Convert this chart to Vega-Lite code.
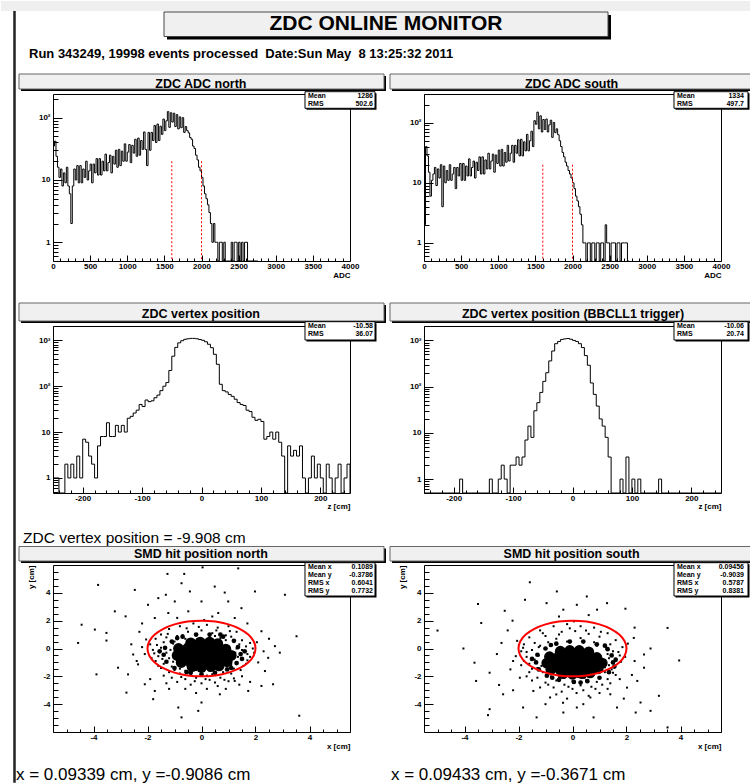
{
"$schema": "https://vega.github.io/schema/vega-lite/v6.json",
"background": "white",
"padding": {"left": 0, "top": 0, "right": 0, "bottom": 0},
"autosize": {"type": "pad"},
"config": {
  "font": "Liberation Sans",
  "view": {"stroke": "black", "strokeWidth": 1},
  "axis": {"grid": false, "domain": false, "labelFont": "Liberation Sans", "labelFontSize": 8, "labelFontWeight": "bold", "labelColor": "black", "titleFont": "Liberation Sans", "titleFontSize": 8, "titleFontWeight": "bold", "titleColor": "black", "tickColor": "black", "tickWidth": 1, "labelOverlap": false, "labelFlush": false, "labelBound": false},
  "text": {"font": "Liberation Sans", "color": "black"}
},
"datasets": {
  "adc": [
{"adc":0,"n":35,"s":2},{"adc":20,"n":42,"s":40},{"adc":40,"n":24,"s":28},{"adc":60,"n":16,"s":15},{"adc":80,"n":11,"s":6},
{"adc":100,"n":15,"s":11},{"adc":120,"n":8,"s":14},{"adc":140,"n":13,"s":18},{"adc":160,"n":9,"s":9},{"adc":180,"n":16,"s":17},
{"adc":200,"n":8,"s":12},{"adc":220,"n":6,"s":20},{"adc":240,"n":2,"s":4},{"adc":260,"n":8,"s":19},{"adc":280,"n":15,"s":10},
{"adc":300,"n":10,"s":16},{"adc":320,"n":17,"s":11},{"adc":340,"n":9,"s":20},{"adc":360,"n":17,"s":11},{"adc":380,"n":9,"s":14},
{"adc":400,"n":15,"s":18},{"adc":420,"n":11,"s":8},{"adc":440,"n":20,"s":18},{"adc":460,"n":10,"s":13},{"adc":480,"n":14,"s":21},
{"adc":500,"n":18,"s":11},{"adc":520,"n":9,"s":21},{"adc":540,"n":18,"s":11},{"adc":560,"n":13,"s":19},{"adc":580,"n":22,"s":13},
{"adc":600,"n":12,"s":25},{"adc":620,"n":22,"s":13},{"adc":640,"n":12,"s":18},{"adc":660,"n":20,"s":23},{"adc":680,"n":14,"s":12},
{"adc":700,"n":26,"s":22},{"adc":720,"n":14,"s":16},{"adc":740,"n":19,"s":27},{"adc":760,"n":25,"s":14},{"adc":780,"n":13,"s":27},
{"adc":800,"n":24,"s":14},{"adc":820,"n":18,"s":24},{"adc":840,"n":30,"s":17},{"adc":860,"n":16,"s":31},{"adc":880,"n":31,"s":17},
{"adc":900,"n":17,"s":23},{"adc":920,"n":29,"s":30},{"adc":940,"n":20,"s":15},{"adc":960,"n":38,"s":29},{"adc":980,"n":20,"s":21},
{"adc":1000,"n":28,"s":35},{"adc":1020,"n":37,"s":19},{"adc":1040,"n":19,"s":36},{"adc":1060,"n":36,"s":19},{"adc":1080,"n":27,"s":32},
{"adc":1100,"n":45,"s":22},{"adc":1120,"n":24,"s":42},{"adc":1140,"n":47,"s":23},{"adc":1160,"n":25,"s":31},{"adc":1180,"n":43,"s":42},
{"adc":1200,"n":31,"s":22},{"adc":1220,"n":59,"s":42},{"adc":1240,"n":31,"s":31},{"adc":1260,"n":17,"s":52},{"adc":1280,"n":58,"s":28},
{"adc":1300,"n":30,"s":53},{"adc":1320,"n":58,"s":28},{"adc":1340,"n":43,"s":48},{"adc":1360,"n":75,"s":34},{"adc":1380,"n":40,"s":64},
{"adc":1400,"n":79,"s":34},{"adc":1420,"n":43,"s":50},{"adc":1440,"n":73,"s":72},{"adc":1460,"n":54,"s":40},{"adc":1480,"n":95,"s":108},
{"adc":1500,"n":62,"s":94},{"adc":1520,"n":89,"s":150},{"adc":1540,"n":125,"s":79},{"adc":1560,"n":70,"s":130},{"adc":1580,"n":120,"s":70},
{"adc":1600,"n":85,"s":113},{"adc":1620,"n":118,"s":77},{"adc":1640,"n":72,"s":115},{"adc":1660,"n":112,"s":70},{"adc":1680,"n":66,"s":92},
{"adc":1700,"n":103,"s":110},{"adc":1720,"n":69,"s":57},{"adc":1740,"n":100,"s":101},{"adc":1760,"n":58,"s":68},{"adc":1780,"n":72,"s":79},
{"adc":1800,"n":62,"s":63},{"adc":1820,"n":57,"s":50},{"adc":1840,"n":48,"s":40},{"adc":1860,"n":45,"s":32},{"adc":1880,"n":35,"s":27},
{"adc":1900,"n":32,"s":22},{"adc":1920,"n":25,"s":19},{"adc":1940,"n":21,"s":16},{"adc":1960,"n":16,"s":14},{"adc":1980,"n":14,"s":12},
{"adc":2000,"n":11,"s":10},{"adc":2020,"n":8,"s":8},{"adc":2040,"n":6,"s":6},{"adc":2060,"n":5,"s":5},{"adc":2080,"n":4,"s":4},
{"adc":2100,"n":3,"s":3},{"adc":2120,"n":2,"s":2},{"adc":2140,"n":1,"s":1},{"adc":2160,"n":2,"s":1},{"adc":2180,"n":1,"s":0},
{"adc":2200,"n":1,"s":1},{"adc":2220,"n":0,"s":1},{"adc":2240,"n":1,"s":0},{"adc":2260,"n":1,"s":1},{"adc":2280,"n":0,"s":1},
{"adc":2300,"n":1,"s":0},{"adc":2320,"n":0,"s":1},{"adc":2340,"n":0,"s":1},{"adc":2360,"n":0,"s":0},{"adc":2380,"n":0,"s":1},
{"adc":2400,"n":1,"s":1},{"adc":2420,"n":0,"s":0},{"adc":2440,"n":1,"s":2},{"adc":2460,"n":1,"s":1},{"adc":2480,"n":0,"s":1},
{"adc":2500,"n":1,"s":0},{"adc":2520,"n":0,"s":1},{"adc":2540,"n":1,"s":1},{"adc":2560,"n":0,"s":1},{"adc":2580,"n":1,"s":0},
{"adc":2600,"n":1,"s":1},{"adc":2620,"n":0,"s":1},{"adc":2640,"n":0,"s":0},{"adc":2660,"n":0,"s":1},{"adc":2680,"n":0,"s":1},
{"adc":2700,"n":0,"s":1},{"adc":2720,"n":0,"s":1},{"adc":2740,"n":0,"s":0},{"adc":2760,"n":0,"s":0}
  ],
  "cuts": [{"cut":1600,"h":20},{"cut":2000,"h":20}],
  "vtx": [
{"z":-250,"n":1,"s":0},{"z":-245,"n":1,"s":0},{"z":-240,"n":0,"s":0},{"z":-235,"n":0,"s":0},{"z":-230,"n":2,"s":0},
{"z":-225,"n":1,"s":0},{"z":-220,"n":2,"s":0},{"z":-215,"n":1,"s":0},{"z":-210,"n":3,"s":0},{"z":-205,"n":1,"s":0},
{"z":-200,"n":7,"s":0},{"z":-195,"n":6,"s":0},{"z":-190,"n":3,"s":1},{"z":-185,"n":2,"s":0},{"z":-180,"n":1,"s":0},
{"z":-175,"n":5,"s":0},{"z":-170,"n":8,"s":0},{"z":-165,"n":8,"s":0},{"z":-160,"n":16,"s":0},{"z":-155,"n":8,"s":0},
{"z":-150,"n":8,"s":0},{"z":-145,"n":14,"s":0},{"z":-140,"n":10,"s":1},{"z":-135,"n":14,"s":0},{"z":-130,"n":10,"s":0},
{"z":-125,"n":20,"s":1},{"z":-120,"n":22,"s":2},{"z":-115,"n":26,"s":1},{"z":-110,"n":30,"s":0},{"z":-105,"n":40,"s":2},
{"z":-100,"n":36,"s":2},{"z":-95,"n":50,"s":3},{"z":-90,"n":46,"s":2},{"z":-85,"n":48,"s":3},{"z":-80,"n":56,"s":7},
{"z":-75,"n":64,"s":14},{"z":-70,"n":80,"s":8},{"z":-65,"n":100,"s":30},{"z":-60,"n":120,"s":45},{"z":-55,"n":220,"s":75},
{"z":-50,"n":450,"s":130},{"z":-45,"n":700,"s":200},{"z":-40,"n":880,"s":360},{"z":-35,"n":980,"s":590},{"z":-30,"n":1050,"s":850},
{"z":-25,"n":1080,"s":950},{"z":-20,"n":1100,"s":1050},{"z":-15,"n":1100,"s":1080},{"z":-10,"n":1080,"s":1100},{"z":-5,"n":1040,"s":1060},
{"z":0,"n":1000,"s":1000},{"z":5,"n":930,"s":950},{"z":10,"n":820,"s":850},{"z":15,"n":690,"s":700},{"z":20,"n":495,"s":470},
{"z":25,"n":300,"s":290},{"z":30,"n":110,"s":120},{"z":35,"n":80,"s":68},{"z":40,"n":75,"s":38},{"z":45,"n":66,"s":20},
{"z":50,"n":60,"s":14},{"z":55,"n":52,"s":8},{"z":60,"n":44,"s":3},{"z":65,"n":40,"s":0},{"z":70,"n":38,"s":0},
{"z":75,"n":30,"s":0},{"z":80,"n":28,"s":1},{"z":85,"n":21,"s":0},{"z":90,"n":18,"s":3},{"z":95,"n":19,"s":0},
{"z":100,"n":17,"s":1},{"z":105,"n":7,"s":0},{"z":110,"n":8,"s":1},{"z":115,"n":10,"s":0},{"z":120,"n":7,"s":0},
{"z":125,"n":10,"s":0},{"z":130,"n":6,"s":0},{"z":135,"n":3,"s":0},{"z":140,"n":0,"s":0},{"z":145,"n":5,"s":1},
{"z":150,"n":3,"s":0},{"z":155,"n":4,"s":0},{"z":160,"n":3,"s":0},{"z":165,"n":5,"s":0},{"z":170,"n":1,"s":0},
{"z":175,"n":0,"s":0},{"z":180,"n":1,"s":0},{"z":185,"n":3,"s":0},{"z":190,"n":1,"s":0},{"z":195,"n":2,"s":0},
{"z":200,"n":1,"s":0},{"z":205,"n":0,"s":0},{"z":210,"n":2,"s":0},{"z":215,"n":1,"s":0},{"z":220,"n":0,"s":0},
{"z":225,"n":1,"s":0},{"z":230,"n":2,"s":0},{"z":235,"n":0,"s":0},{"z":240,"n":1,"s":0},{"z":245,"n":2,"s":0},
{"z":250,"n":0,"s":0}
  ],
  "ring": [
{"k":0,"x":2,"y":0},{"k":1,"x":1.932,"y":0.518},{"k":2,"x":1.732,"y":1},{"k":3,"x":1.414,"y":1.414},{"k":4,"x":1,"y":1.732},{"k":5,"x":0.518,"y":1.932},
{"k":6,"x":0,"y":2},{"k":7,"x":-0.518,"y":1.932},{"k":8,"x":-1,"y":1.732},{"k":9,"x":-1.414,"y":1.414},{"k":10,"x":-1.732,"y":1},{"k":11,"x":-1.932,"y":0.518},
{"k":12,"x":-2,"y":0},{"k":13,"x":-1.932,"y":-0.518},{"k":14,"x":-1.732,"y":-1},{"k":15,"x":-1.414,"y":-1.414},{"k":16,"x":-1,"y":-1.732},{"k":17,"x":-0.518,"y":-1.932},
{"k":18,"x":0,"y":-2},{"k":19,"x":0.518,"y":-1.932},{"k":20,"x":1,"y":-1.732},{"k":21,"x":1.414,"y":-1.414},{"k":22,"x":1.732,"y":-1},{"k":23,"x":1.932,"y":-0.518}
  ],
  "nCore": [
{"x":-0.4,"y":0.4},{"x":-0.05,"y":0.45},{"x":0.3,"y":0.45},{"x":0.6,"y":0.35},{"x":-0.85,"y":0},{"x":-0.5,"y":0.05},{"x":-0.15,"y":0},{"x":0.2,"y":0.05},{"x":0.55,"y":0},{"x":0.9,"y":-0.05},
{"x":-0.9,"y":-0.5},{"x":-0.55,"y":-0.5},{"x":-0.2,"y":-0.5},{"x":0.15,"y":-0.5},{"x":0.5,"y":-0.5},{"x":0.85,"y":-0.5},{"x":1.1,"y":-0.5},
{"x":-0.75,"y":-1},{"x":-0.4,"y":-1},{"x":-0.05,"y":-1},{"x":0.3,"y":-1},{"x":0.65,"y":-1},{"x":0.95,"y":-0.95},
{"x":-0.35,"y":-1.3},{"x":0,"y":-1.35},{"x":0.35,"y":-1.3},{"x":0.65,"y":-1.25},
{"x":-0.7,"y":-0.25},{"x":-0.35,"y":-0.25},{"x":0,"y":-0.25},{"x":0.35,"y":-0.25},{"x":0.7,"y":-0.25},{"x":-0.55,"y":-0.75},{"x":-0.2,"y":-0.75},{"x":0.15,"y":-0.75},{"x":0.5,"y":-0.75},{"x":0.85,"y":-0.75}
  ],
  "sCore": [
{"x":-0.45,"y":-0.2},{"x":-0.1,"y":-0.15},{"x":0.25,"y":-0.15},{"x":0.6,"y":-0.25},{"x":-0.85,"y":-0.6},{"x":-0.5,"y":-0.55},{"x":-0.15,"y":-0.55},{"x":0.2,"y":-0.55},{"x":0.55,"y":-0.55},{"x":0.9,"y":-0.65},
{"x":-0.95,"y":-1.05},{"x":-0.6,"y":-1.05},{"x":-0.25,"y":-1.05},{"x":0.1,"y":-1.05},{"x":0.45,"y":-1.05},{"x":0.8,"y":-1.05},{"x":1.1,"y":-1.05},
{"x":-0.8,"y":-1.5},{"x":-0.45,"y":-1.55},{"x":-0.1,"y":-1.55},{"x":0.25,"y":-1.55},{"x":0.6,"y":-1.5},{"x":0.95,"y":-1.45},
{"x":-0.35,"y":-1.8},{"x":0,"y":-1.85},{"x":0.35,"y":-1.8},{"x":0.65,"y":-1.75},
{"x":-0.7,"y":-0.8},{"x":-0.35,"y":-0.8},{"x":0,"y":-0.8},{"x":0.35,"y":-0.8},{"x":0.7,"y":-0.8},{"x":-0.6,"y":-1.3},{"x":-0.25,"y":-1.3},{"x":0.1,"y":-1.3},{"x":0.45,"y":-1.3},{"x":0.8,"y":-1.3}
  ],
  "nMid": [
{"x":1.45,"y":-0.4},{"x":1.35,"y":0.1},{"x":1.2,"y":0.55},{"x":0.8,"y":0.85},{"x":0.3,"y":1},{"x":-0.2,"y":1},{"x":-0.7,"y":0.85},{"x":-1.1,"y":0.5},
{"x":-1.35,"y":0.05},{"x":-1.4,"y":-0.45},{"x":-1.3,"y":-0.95},{"x":-1,"y":-1.4},{"x":-0.55,"y":-1.7},{"x":0,"y":-1.85},{"x":0.5,"y":-1.75},{"x":0.95,"y":-1.5},
{"x":1.3,"y":-1.05},{"x":1.5,"y":-0.75},{"x":1.6,"y":-0.2},{"x":-1.55,"y":-0.2},{"x":-0.4,"y":-1.75},{"x":0.7,"y":1},{"x":-0.9,"y":0.75},{"x":1.1,"y":-1.4}
  ],
  "sMid": [
{"x":1.5,"y":-1},{"x":1.45,"y":-0.5},{"x":1.3,"y":-0.05},{"x":0.9,"y":0.3},{"x":0.4,"y":0.5},{"x":-0.1,"y":0.5},{"x":-0.6,"y":0.35},{"x":-1,"y":0},
{"x":-1.3,"y":-0.45},{"x":-1.35,"y":-1},{"x":-1.25,"y":-1.5},{"x":-0.95,"y":-1.95},{"x":-0.5,"y":-2.25},{"x":0.05,"y":-2.4},{"x":0.55,"y":-2.35},{"x":1,"y":-2.1},
{"x":1.35,"y":-1.7},{"x":1.55,"y":-1.3},{"x":-1.5,"y":-0.75},{"x":0.3,"y":-2.45},{"x":-0.75,"y":-2.1},{"x":1.2,"y":0.2},{"x":-0.8,"y":0.25},{"x":1.6,"y":-0.8}
  ],
  "nPts": [
{"x":-1.26,"y":5.36},{"x":-0.64,"y":5.36},{"x":0.04,"y":5.83},{"x":1.36,"y":5.76},{"x":-3.83,"y":4.57},{"x":-2.47,"y":4.21},{"x":-1.32,"y":3.86},{"x":-0.74,"y":4.69},{"x":-0.43,"y":4.1},{"x":0.49,"y":4.45},
{"x":0.86,"y":4.02},{"x":1.98,"y":4.1},{"x":3.09,"y":3.86},{"x":-4.44,"y":1.71},{"x":-3.95,"y":1.36},{"x":-3.21,"y":2.67},{"x":-2.81,"y":2.31},{"x":-4.57,"y":0.4},{"x":-3.52,"y":1.12},{"x":-3.52,"y":0.57},
{"x":3.52,"y":0.88},{"x":2.72,"y":0.17},{"x":2.22,"y":1.24},{"x":2.47,"y":-0.67},{"x":2.35,"y":-1.62},{"x":2.65,"y":-2.57},{"x":2.22,"y":-2.69},{"x":1.73,"y":-3.05},{"x":-2.78,"y":-3.17},{"x":-2.1,"y":-2.57},
{"x":-1.73,"y":-3.05},{"x":-1.79,"y":-3.64},{"x":-0.86,"y":-4.24},{"x":0,"y":-3.88},{"x":-0.12,"y":-4.48},{"x":-0.74,"y":-4.95},{"x":3.62,"y":-4.83},{"x":0.68,"y":-3.29},{"x":1.23,"y":-2.33},{"x":-2.53,"y":-0.43},
{"x":-3.09,"y":-1.38},{"x":-2.35,"y":-1.14},{"x":-3.89,"y":-1.86},{"x":-2.72,"y":-1.86},{"x":-1.6,"y":3.62},{"x":-0.99,"y":3.38},{"x":0,"y":3.38},{"x":0.99,"y":3.38},{"x":-1.98,"y":3.14},{"x":1.48,"y":2.9},
{"x":-1.23,"y":2.55},{"x":-0.49,"y":2.67},{"x":0.62,"y":2.55},{"x":1.23,"y":2.19},{"x":-1.73,"y":2.19},
{"x":-2.3,"y":1.2},{"x":-2.6,"y":0.3},{"x":2.5,"y":0.7},{"x":2.1,"y":-1},{"x":1.8,"y":-2.4},{"x":-1.9,"y":-2.2},{"x":-2.4,"y":-0.9},{"x":2.9,"y":-0.3},{"x":-0.2,"y":-3.2},{"x":0.9,"y":-2.9},
{"x":-1.2,"y":-2.9},{"x":0.4,"y":2.3},{"x":-0.9,"y":2.2},{"x":1.7,"y":1.8},{"x":-2.2,"y":1.8},
{"x":-0.8,"y":1.6},{"x":-0.3,"y":1.8},{"x":0.2,"y":1.7},{"x":0.6,"y":1.5},{"x":1,"y":1.6},{"x":-1.2,"y":1.4},{"x":0,"y":1.3},{"x":-0.5,"y":1.2},{"x":0.4,"y":1.1},{"x":1.3,"y":1.2},
{"x":-1.5,"y":1},{"x":0.9,"y":0.95},{"x":-1.7,"y":0.7},{"x":-1.3,"y":0.8},{"x":-0.9,"y":0.9},{"x":-0.6,"y":0.7},{"x":-0.2,"y":0.95},{"x":0.3,"y":0.85},{"x":0.7,"y":0.75},{"x":1.1,"y":0.85},
{"x":1.5,"y":0.6},{"x":1.8,"y":0.4},{"x":-1.9,"y":0.3},{"x":-1.4,"y":0.45},{"x":-1,"y":0.5},{"x":1.4,"y":0.3},{"x":1.2,"y":0.55},{"x":-0.4,"y":0.5},{"x":0.6,"y":0.55},{"x":-1.8,"y":-0.1},
{"x":-1.5,"y":0.05},{"x":-1.3,"y":-0.3},{"x":1.5,"y":-0.1},{"x":1.7,"y":-0.4},{"x":1.35,"y":-0.6},{"x":-1.6,"y":-0.55},{"x":-1.2,"y":-0.7},{"x":1.9,"y":0},{"x":-1.7,"y":-0.9},{"x":-1.4,"y":-1.1},
{"x":-1.1,"y":-1.3},{"x":1.3,"y":-1},{"x":1.55,"y":-1.25},{"x":1.2,"y":-1.45},{"x":-1.5,"y":-1.4},{"x":1.7,"y":-0.85},{"x":-1.2,"y":-1.7},{"x":-0.8,"y":-1.8},{"x":-0.4,"y":-1.9},{"x":0,"y":-1.75},
{"x":0.4,"y":-1.85},{"x":0.8,"y":-1.7},{"x":1.1,"y":-1.8},{"x":-0.6,"y":-1.6},{"x":0.6,"y":-1.55},{"x":-1,"y":-1.55},{"x":0.2,"y":-1.95},{"x":0.95,"y":-1.5},{"x":-1.1,"y":-2.1},{"x":-0.6,"y":-2.2},
{"x":-0.2,"y":-2.1},{"x":0.3,"y":-2.25},{"x":0.7,"y":-2.1},{"x":1.2,"y":-2.15},{"x":-0.9,"y":-2.4},{"x":0,"y":-2.5},{"x":0.5,"y":-2.45},{"x":1,"y":-2.35},{"x":-0.4,"y":-2.6},{"x":1.5,"y":-2},
{"x":-1.4,"y":-1.95},{"x":-1.15,"y":-0.1},{"x":-1.05,"y":0.35},{"x":1.3,"y":0},{"x":1.25,"y":-0.3},{"x":-1.05,"y":-0.95},{"x":1.1,"y":-1.2},{"x":-0.7,"y":0.95},{"x":0.5,"y":0.9},{"x":0.9,"y":0.6},
{"x":-0.8,"y":-1.45},{"x":0.3,"y":-1.6},{"x":-0.2,"y":-1.55},
{"x":-1.65,"y":0.25},{"x":-1.75,"y":-0.35},{"x":-1.45,"y":-0.75},{"x":1.65,"y":0.15},{"x":1.8,"y":-0.6},{"x":1.45,"y":-1.55},{"x":-1.25,"y":1.05},{"x":1.05,"y":1.25},{"x":-0.1,"y":1.55},{"x":0.55,"y":1.3},
{"x":-0.55,"y":1.45},{"x":-1.85,"y":-0.7},{"x":1.95,"y":-0.3},{"x":-0.25,"y":-2.35},{"x":0.85,"y":-2.25},{"x":-0.75,"y":-2.05},{"x":0.15,"y":-2.2},{"x":-1.6,"y":-1.25},{"x":1.65,"y":-1.1},{"x":-2.1,"y":-0.4},
{"x":2.05,"y":0.45},{"x":-2.05,"y":0.65},{"x":-0.6,"y":-2.9},{"x":0.6,"y":-2.7},{"x":1.4,"y":-2.6},{"x":-1.3,"y":-2.5},{"x":0.2,"y":-2.9},{"x":2.3,"y":-0.2},{"x":-2.2,"y":0.1},{"x":0.1,"y":2.05}
  ],
  "sPts": [
{"x":-1.58,"y":4.76},{"x":-0.58,"y":4.1},{"x":-1.76,"y":3.5},{"x":-3.5,"y":3.19},{"x":-5,"y":1.29},{"x":-3.38,"y":1.83},{"x":-2.51,"y":2.71},{"x":-2.22,"y":2},{"x":-4.04,"y":0},{"x":-3.63,"y":-1.02},
{"x":-3.57,"y":-2.33},{"x":-3.07,"y":-1.74},{"x":-2.63,"y":0.4},{"x":-2.72,"y":-2.62},{"x":-2.57,"y":-3.29},{"x":-3.07,"y":-4.36},{"x":-3.13,"y":-4.79},{"x":-1.83,"y":-4.24},{"x":-1.33,"y":-4.95},{"x":-0.34,"y":-4.6},
{"x":0.16,"y":-4.24},{"x":0.78,"y":-4.95},{"x":1.65,"y":-4.24},{"x":2.52,"y":-3.88},{"x":2.34,"y":-4.6},{"x":2.89,"y":-4.48},{"x":3.52,"y":-5.67},{"x":3.2,"y":-3.4},{"x":3.95,"y":-0.86},{"x":3.52,"y":1.48},
{"x":2.89,"y":0},{"x":1.96,"y":2.86},{"x":1.28,"y":3.26},{"x":0.91,"y":2.79},{"x":0.16,"y":3.14},{"x":-0.34,"y":2.79},{"x":-0.96,"y":3.26},{"x":0.53,"y":3.74},{"x":2.65,"y":-1.38},{"x":2.4,"y":-2.33},
{"x":2.02,"y":-2.81},{"x":1.4,"y":-3.29},{"x":0.66,"y":-3.52},{"x":-0.83,"y":-3.52},{"x":-1.45,"y":-3.05},{"x":-1.95,"y":-2.1},{"x":-2.2,"y":-0.9},{"x":-1.83,"y":0.05},{"x":2.65,"y":-0.43},{"x":2.27,"y":0.76},
{"x":-2.4,"y":1.3},{"x":2.3,"y":1.5},{"x":-2.8,"y":-0.4},{"x":2.2,"y":-1.9},{"x":-2.2,"y":-3},{"x":1,"y":-3.2},{"x":-0.2,"y":-3.6},{"x":0.4,"y":-4},{"x":-1,"y":-4},{"x":1.9,"y":-3.6},
{"x":-0.5,"y":2.3},{"x":0.6,"y":2.4},
{"x":-0.7,"y":1.6},{"x":-0.2,"y":1.75},{"x":0.3,"y":1.6},{"x":0.8,"y":1.5},{"x":-1.2,"y":1.3},{"x":1.3,"y":1.1},{"x":-0.4,"y":1.2},{"x":0.1,"y":1.25},{"x":0.6,"y":1.05},{"x":-1.6,"y":0.8},
{"x":-1,"y":0.9},{"x":1,"y":0.85},{"x":1.6,"y":0.6},{"x":-0.6,"y":0.7},{"x":0.3,"y":0.75},{"x":-1.8,"y":0.3},{"x":-1.4,"y":0.4},{"x":1.4,"y":0.3},{"x":1.85,"y":0.1},{"x":-0.2,"y":0.5},
{"x":0.8,"y":0.45},{"x":-1.9,"y":-0.2},{"x":-1.5,"y":-0.1},{"x":-1.25,"y":0.1},{"x":1.5,"y":-0.2},{"x":1.75,"y":-0.5},{"x":1.3,"y":-0.4},{"x":-1.7,"y":-0.6},{"x":-1.4,"y":-0.8},{"x":1.6,"y":-0.9},
{"x":1.35,"y":-1.2},{"x":-1.6,"y":-1.1},{"x":-1.3,"y":-1.4},{"x":1.45,"y":-1.5},{"x":1.2,"y":-1.7},{"x":-1.1,"y":-1.7},{"x":-0.8,"y":-2},{"x":-0.3,"y":-2.1},{"x":0.2,"y":-2.05},{"x":0.7,"y":-2},
{"x":1,"y":-2.1},{"x":-1.3,"y":-2.1},{"x":-0.6,"y":-2.3},{"x":0,"y":-2.35},{"x":0.5,"y":-2.3},{"x":0.9,"y":-2.4},{"x":1.3,"y":-2.2},{"x":-1,"y":-2.45},{"x":-0.3,"y":-2.6},{"x":0.3,"y":-2.65},
{"x":0.7,"y":-2.75},{"x":-0.7,"y":-2.8},{"x":0,"y":-2.9},{"x":1.1,"y":-2.6},{"x":-1.5,"y":-2.3},{"x":1.6,"y":-1.9},{"x":-1.6,"y":-1.7},{"x":0.4,"y":-3},{"x":-0.4,"y":-3.1},{"x":1.4,"y":-2.5},
{"x":-1.25,"y":-0.5},{"x":-1.2,"y":0.2},{"x":1.35,"y":-0.7},{"x":1.25,"y":0.05},{"x":-0.9,"y":0.45},{"x":0.9,"y":0.2},{"x":-1.15,"y":-1.25},{"x":1.2,"y":-1.35},{"x":-0.5,"y":-2.05},{"x":0.45,"y":-2.1},
{"x":-1.7,"y":-0.25},{"x":-1.8,"y":-0.9},{"x":-1.5,"y":-1.45},{"x":1.7,"y":-0.25},{"x":1.8,"y":-0.95},{"x":1.5,"y":-1.75},{"x":-1.1,"y":1.1},{"x":1.05,"y":1.2},{"x":-0.1,"y":1.45},{"x":0.5,"y":1.3},
{"x":-0.5,"y":1},{"x":-1.9,"y":-1.2},{"x":1.95,"y":-0.6},{"x":-0.15,"y":-2.75},{"x":0.85,"y":-2.9},{"x":-0.9,"y":-2.6},{"x":0.15,"y":-3.2},{"x":-1.7,"y":-2},{"x":1.75,"y":-2.2},{"x":-2.1,"y":-0.55},
{"x":2.05,"y":0.35},{"x":-2.05,"y":0.55},{"x":-0.6,"y":-3.3},{"x":0.6,"y":-3.4},{"x":1.3,"y":-2.9},{"x":-1.2,"y":-2.8},{"x":-0.35,"y":-3.9},{"x":2.3,"y":-0.9},{"x":-2.3,"y":-1.5},{"x":0.05,"y":1.95}
  ]
},
"columns": 2,
"spacing": {"row": 0, "column": 74},
"bounds": "flush",
"align": "each",
"concat": [
  {
    "width": 297, "height": 167,
    "resolve": {"scale": {"x": "independent", "y": "independent"}, "axis": {"x": "independent", "y": "independent"}},
    "layer": [
      {"data": {"values": [{}]}, "layer": [
        {"mark": {"type": "rect", "fill": "#efefef"}, "encoding": {"x": {"datum": -0.17508, "type": "quantitative", "scale": {"domain": [0, 1]}, "axis": null}, "x2": {"datum": 2.35016}, "y": {"datum": 1.55689, "type": "quantitative", "scale": {"domain": [0, 1]}, "axis": null}, "y2": {"datum": 1.49701}}},
        {"mark": {"type": "rule", "color": "#222222", "strokeWidth": 2.5}, "encoding": {"x": {"datum": -0.12963, "type": "quantitative", "scale": {"domain": [0, 1]}, "axis": null}, "y": {"datum": 1.49701, "type": "quantitative", "scale": {"domain": [0, 1]}, "axis": null}, "y2": {"datum": -3.12395}}},
        {"mark": {"type": "rect", "fill": "black", "xOffset": 3, "x2Offset": 3, "yOffset": 3, "y2Offset": 3}, "encoding": {"x": {"datum": 0.37374, "type": "quantitative", "scale": {"domain": [0, 1]}, "axis": null}, "x2": {"datum": 1.86869}, "y": {"datum": 1.49102, "type": "quantitative", "scale": {"domain": [0, 1]}, "axis": null}, "y2": {"datum": 1.34431}}},
        {"mark": {"type": "rect", "fill": "#f0f0f0", "stroke": "#444444", "strokeWidth": 1}, "encoding": {"x": {"datum": 0.37374, "type": "quantitative", "scale": {"domain": [0, 1]}, "axis": null}, "x2": {"datum": 1.86869}, "y": {"datum": 1.49102, "type": "quantitative", "scale": {"domain": [0, 1]}, "axis": null}, "y2": {"datum": 1.34431}}},
        {"mark": {"type": "text", "fontSize": 21, "fontWeight": "bold", "align": "center", "baseline": "middle"}, "encoding": {"x": {"datum": 1.12121, "type": "quantitative", "scale": {"domain": [0, 1]}, "axis": null}, "y": {"datum": 1.41617, "type": "quantitative", "scale": {"domain": [0, 1]}, "axis": null}, "text": {"value": "ZDC ONLINE MONITOR"}}},
        {"mark": {"type": "text", "fontSize": 13, "fontWeight": "bold", "align": "left", "baseline": "alphabetic"}, "encoding": {"x": {"datum": -0.08081, "type": "quantitative", "scale": {"domain": [0, 1]}, "axis": null}, "y": {"datum": 1.21557, "type": "quantitative", "scale": {"domain": [0, 1]}, "axis": null}, "text": {"value": "Run 343249, 19998 events processed\u00a0 Date:Sun May\u00a0 8 13:25:32 2011"}}}
      ]},
      {"resolve": {"axis": {"x": "independent", "y": "independent"}}, "layer": [
        {"data": {"name": "adc"}, "mark": {"type": "line", "interpolate": "step-after", "color": "black", "strokeWidth": 1},
         "encoding": {
           "x": {"field": "adc", "type": "quantitative", "scale": {"domain": [0, 4000], "nice": false, "zero": false},
                 "axis": {"orient": "bottom", "values": [0,500,1000,1500,2000,2500,3000,3500,4000], "format": "d", "labelOverlap": false, "tickSize": -6, "labelPadding": 7.5, "title": "ADC", "titleAlign": "right", "titleBaseline": "top", "titleX": 297, "titleY": 10}},
           "y": {"field": "n", "type": "quantitative", "scale": {"type": "log", "domain": [0.5, 240], "nice": false, "clamp": true},
                 "axis": {"orient": "left", "values": [1,10,100], "labelOverlap": false, "labelExpr": "datum.value == 100 ? '10²' : datum.value == 1000 ? '10³' : toString(datum.value)", "tickSize": -9, "labelPadding": 12, "title": null}}
         }},
        {"data": {"name": "cuts"}, "mark": {"type": "rule", "color": "red", "strokeDash": [2, 2], "strokeWidth": 1},
         "encoding": {
           "x": {"field": "cut", "type": "quantitative", "scale": {"domain": [0, 4000], "nice": false, "zero": false},
                 "axis": {"orient": "bottom", "values": [100,200,300,400,600,700,800,900,1100,1200,1300,1400,1600,1700,1800,1900,2100,2200,2300,2400,2600,2700,2800,2900,3100,3200,3300,3400,3600,3700,3800,3900], "labels": false, "tickSize": -3, "title": null}},
           "y": {"field": "h", "type": "quantitative", "scale": {"type": "log", "domain": [0.5, 240], "nice": false, "clamp": true},
                 "axis": {"orient": "left", "values": [0.6,0.7,0.8,0.9,2,3,4,5,6,7,8,9,20,30,40,50,60,70,80,90,200], "labels": false, "tickSize": -5, "title": null}},
           "y2": {"datum": 0.5}}}
      ]},
      {"data": {"values": [{}]}, "layer": [
        {"mark": {"type": "rect", "fill": "black", "xOffset": 2, "x2Offset": 2, "yOffset": 2, "y2Offset": 2}, "encoding": {"x": {"datum": -0.11448, "type": "quantitative", "scale": {"domain": [0, 1]}, "axis": null}, "x2": {"datum": 1.11448}, "y": {"datum": 1.11976, "type": "quantitative", "scale": {"domain": [0, 1]}, "axis": null}, "y2": {"datum": 1.02994}}},
        {"mark": {"type": "rect", "fill": "#f0f0f0", "stroke": "#666666", "strokeWidth": 1}, "encoding": {"x": {"datum": -0.11448, "type": "quantitative", "scale": {"domain": [0, 1]}, "axis": null}, "x2": {"datum": 1.11448}, "y": {"datum": 1.11976, "type": "quantitative", "scale": {"domain": [0, 1]}, "axis": null}, "y2": {"datum": 1.02994}}},
        {"mark": {"type": "text", "fontSize": 12.5, "fontWeight": "bold", "align": "center", "baseline": "middle"}, "encoding": {"x": {"datum": 0.498, "type": "quantitative", "scale": {"domain": [0, 1]}, "axis": null}, "y": {"datum": 1.06287, "type": "quantitative", "scale": {"domain": [0, 1]}, "axis": null}, "text": {"value": "ZDC ADC north"}}},
        {"mark": {"type": "rect", "fill": "black", "xOffset": 1.5, "x2Offset": 1.5, "yOffset": 1.5, "y2Offset": 1.5}, "encoding": {"x": {"datum": 0.84848, "type": "quantitative", "scale": {"domain": [0, 1]}, "axis": null}, "x2": {"datum": 1.08418}, "y": {"datum": 1.01377, "type": "quantitative", "scale": {"domain": [0, 1]}, "axis": null}, "y2": {"datum": 0.91437}}},
        {"mark": {"type": "rect", "fill": "white", "stroke": "black", "strokeWidth": 1}, "encoding": {"x": {"datum": 0.84848, "type": "quantitative", "scale": {"domain": [0, 1]}, "axis": null}, "x2": {"datum": 1.08418}, "y": {"datum": 1.01377, "type": "quantitative", "scale": {"domain": [0, 1]}, "axis": null}, "y2": {"datum": 0.91437}}},
        {"mark": {"type": "text", "fontSize": 7, "fontWeight": "bold", "align": "left", "baseline": "top", "lineHeight": 8}, "encoding": {"x": {"datum": 0.85859, "type": "quantitative", "scale": {"domain": [0, 1]}, "axis": null}, "y": {"datum": 1.01198, "type": "quantitative", "scale": {"domain": [0, 1]}, "axis": null}, "text": {"value": ["Mean", "RMS"]}}},
        {"mark": {"type": "text", "fontSize": 7, "fontWeight": "bold", "align": "right", "baseline": "top", "lineHeight": 8}, "encoding": {"x": {"datum": 1.07744, "type": "quantitative", "scale": {"domain": [0, 1]}, "axis": null}, "y": {"datum": 1.01198, "type": "quantitative", "scale": {"domain": [0, 1]}, "axis": null}, "text": {"value": ["1286", "502.6"]}}}
      ]}
    ]
  },
  {
    "width": 297, "height": 167,
    "resolve": {"scale": {"x": "independent", "y": "independent"}, "axis": {"x": "independent", "y": "independent"}},
    "layer": [
      {"resolve": {"axis": {"x": "independent", "y": "independent"}}, "layer": [
        {"data": {"name": "adc"}, "mark": {"type": "line", "interpolate": "step-after", "color": "black", "strokeWidth": 1},
         "encoding": {
           "x": {"field": "adc", "type": "quantitative", "scale": {"domain": [0, 4000], "nice": false, "zero": false},
                 "axis": {"orient": "bottom", "values": [0,500,1000,1500,2000,2500,3000,3500,4000], "format": "d", "labelOverlap": false, "tickSize": -6, "labelPadding": 7.5, "title": "ADC", "titleAlign": "right", "titleBaseline": "top", "titleX": 297, "titleY": 10}},
           "y": {"field": "s", "type": "quantitative", "scale": {"type": "log", "domain": [0.5, 300], "nice": false, "clamp": true},
                 "axis": {"orient": "left", "values": [1,10,100], "labelOverlap": false, "labelExpr": "datum.value == 100 ? '10²' : datum.value == 1000 ? '10³' : toString(datum.value)", "tickSize": -9, "labelPadding": 12, "title": null}}
         }},
        {"data": {"name": "cuts"}, "mark": {"type": "rule", "color": "red", "strokeDash": [2, 2], "strokeWidth": 1},
         "encoding": {
           "x": {"field": "cut", "type": "quantitative", "scale": {"domain": [0, 4000], "nice": false, "zero": false},
                 "axis": {"orient": "bottom", "values": [100,200,300,400,600,700,800,900,1100,1200,1300,1400,1600,1700,1800,1900,2100,2200,2300,2400,2600,2700,2800,2900,3100,3200,3300,3400,3600,3700,3800,3900], "labels": false, "tickSize": -3, "title": null}},
           "y": {"field": "h", "type": "quantitative", "scale": {"type": "log", "domain": [0.5, 300], "nice": false, "clamp": true},
                 "axis": {"orient": "left", "values": [0.6,0.7,0.8,0.9,2,3,4,5,6,7,8,9,20,30,40,50,60,70,80,90,200,300], "labels": false, "tickSize": -5, "title": null}},
           "y2": {"datum": 0.5}}}
      ]},
      {"data": {"values": [{}]}, "layer": [
        {"mark": {"type": "rect", "fill": "black", "xOffset": 2, "x2Offset": 0, "yOffset": 2, "y2Offset": 2}, "encoding": {"x": {"datum": -0.11448, "type": "quantitative", "scale": {"domain": [0, 1]}, "axis": null}, "x2": {"datum": 1.10269}, "y": {"datum": 1.11976, "type": "quantitative", "scale": {"domain": [0, 1]}, "axis": null}, "y2": {"datum": 1.02994}}},
        {"mark": {"type": "rect", "fill": "#f0f0f0", "stroke": "#666666", "strokeWidth": 1}, "encoding": {"x": {"datum": -0.11448, "type": "quantitative", "scale": {"domain": [0, 1]}, "axis": null}, "x2": {"datum": 1.10269}, "y": {"datum": 1.11976, "type": "quantitative", "scale": {"domain": [0, 1]}, "axis": null}, "y2": {"datum": 1.02994}}},
        {"mark": {"type": "text", "fontSize": 12.5, "fontWeight": "bold", "align": "center", "baseline": "middle"}, "encoding": {"x": {"datum": 0.497, "type": "quantitative", "scale": {"domain": [0, 1]}, "axis": null}, "y": {"datum": 1.06287, "type": "quantitative", "scale": {"domain": [0, 1]}, "axis": null}, "text": {"value": "ZDC ADC south"}}},
        {"mark": {"type": "rect", "fill": "black", "xOffset": 1.5, "x2Offset": 1.5, "yOffset": 1.5, "y2Offset": 1.5}, "encoding": {"x": {"datum": 0.84175, "type": "quantitative", "scale": {"domain": [0, 1]}, "axis": null}, "x2": {"datum": 1.09091}, "y": {"datum": 1.01377, "type": "quantitative", "scale": {"domain": [0, 1]}, "axis": null}, "y2": {"datum": 0.91437}}},
        {"mark": {"type": "rect", "fill": "white", "stroke": "black", "strokeWidth": 1}, "encoding": {"x": {"datum": 0.84175, "type": "quantitative", "scale": {"domain": [0, 1]}, "axis": null}, "x2": {"datum": 1.09091}, "y": {"datum": 1.01377, "type": "quantitative", "scale": {"domain": [0, 1]}, "axis": null}, "y2": {"datum": 0.91437}}},
        {"mark": {"type": "text", "fontSize": 7, "fontWeight": "bold", "align": "left", "baseline": "top", "lineHeight": 8}, "encoding": {"x": {"datum": 0.85185, "type": "quantitative", "scale": {"domain": [0, 1]}, "axis": null}, "y": {"datum": 1.01198, "type": "quantitative", "scale": {"domain": [0, 1]}, "axis": null}, "text": {"value": ["Mean", "RMS"]}}},
        {"mark": {"type": "text", "fontSize": 7, "fontWeight": "bold", "align": "right", "baseline": "top", "lineHeight": 8}, "encoding": {"x": {"datum": 1.07744, "type": "quantitative", "scale": {"domain": [0, 1]}, "axis": null}, "y": {"datum": 1.01198, "type": "quantitative", "scale": {"domain": [0, 1]}, "axis": null}, "text": {"value": ["1334", "497.7"]}}}
      ]}
    ]
  },
  {"width": 297, "height": 65, "view": {"stroke": null}, "data": {"values": []}, "mark": "point"},
  {"width": 297, "height": 65, "view": {"stroke": null}, "data": {"values": []}, "mark": "point"},
  {
    "width": 297, "height": 167,
    "resolve": {"scale": {"x": "independent", "y": "independent"}, "axis": {"x": "independent", "y": "independent"}},
    "layer": [
      {"resolve": {"axis": {"x": "independent", "y": "independent"}}, "layer": [
        {"data": {"name": "vtx"}, "mark": {"type": "line", "interpolate": "step-after", "color": "black", "strokeWidth": 1},
         "encoding": {
           "x": {"field": "z", "type": "quantitative", "scale": {"domain": [-250, 250], "nice": false, "zero": false},
                 "axis": {"orient": "bottom", "values": [-200,-100,0,100,200], "labelOverlap": false, "labelExpr": "toString(datum.value)", "tickSize": -6, "labelPadding": 7.5, "title": "z [cm]", "titleAlign": "right", "titleBaseline": "top", "titleX": 297, "titleY": 9}},
           "y": {"field": "n", "type": "quantitative", "scale": {"type": "log", "domain": [0.47, 2050], "nice": false, "clamp": true},
                 "axis": {"orient": "left", "values": [1,10,100,1000], "labelOverlap": false, "labelExpr": "datum.value == 100 ? '10²' : datum.value == 1000 ? '10³' : toString(datum.value)", "tickSize": -9, "labelPadding": 12, "title": null}}
         }},
        {"data": {"values": []}, "mark": "point",
         "encoding": {
           "x": {"field": "z", "type": "quantitative", "scale": {"domain": [-250, 250], "nice": false, "zero": false},
                 "axis": {"orient": "bottom", "values": [-240,-220,-180,-160,-140,-120,-80,-60,-40,-20,20,40,60,80,120,140,160,180,220,240], "labels": false, "tickSize": -3, "title": null}},
           "y": {"field": "n", "type": "quantitative", "scale": {"type": "log", "domain": [0.47, 2050], "nice": false, "clamp": true},
                 "axis": {"orient": "left", "values": [0.5,0.6,0.7,0.8,0.9,2,3,4,5,6,7,8,9,20,30,40,50,60,70,80,90,200,300,400,500,600,700,800,900,2000], "labels": false, "tickSize": -5, "title": null}}
         }}
      ]},
      {"data": {"values": [{}]}, "layer": [
        {"mark": {"type": "rect", "fill": "black", "xOffset": 2, "x2Offset": 2, "yOffset": 2, "y2Offset": 2}, "encoding": {"x": {"datum": -0.11448, "type": "quantitative", "scale": {"domain": [0, 1]}, "axis": null}, "x2": {"datum": 1.11448}, "y": {"datum": 1.13772, "type": "quantitative", "scale": {"domain": [0, 1]}, "axis": null}, "y2": {"datum": 1.02994}}},
        {"mark": {"type": "rect", "fill": "#f0f0f0", "stroke": "#666666", "strokeWidth": 1}, "encoding": {"x": {"datum": -0.11448, "type": "quantitative", "scale": {"domain": [0, 1]}, "axis": null}, "x2": {"datum": 1.11448}, "y": {"datum": 1.13772, "type": "quantitative", "scale": {"domain": [0, 1]}, "axis": null}, "y2": {"datum": 1.02994}}},
        {"mark": {"type": "text", "fontSize": 12.5, "fontWeight": "bold", "align": "center", "baseline": "middle"}, "encoding": {"x": {"datum": 0.498, "type": "quantitative", "scale": {"domain": [0, 1]}, "axis": null}, "y": {"datum": 1.07485, "type": "quantitative", "scale": {"domain": [0, 1]}, "axis": null}, "text": {"value": "ZDC vertex position"}}},
        {"mark": {"type": "rect", "fill": "black", "xOffset": 1.5, "x2Offset": 1.5, "yOffset": 1.5, "y2Offset": 1.5}, "encoding": {"x": {"datum": 0.84848, "type": "quantitative", "scale": {"domain": [0, 1]}, "axis": null}, "x2": {"datum": 1.08418}, "y": {"datum": 1.02575, "type": "quantitative", "scale": {"domain": [0, 1]}, "axis": null}, "y2": {"datum": 0.91617}}},
        {"mark": {"type": "rect", "fill": "white", "stroke": "black", "strokeWidth": 1}, "encoding": {"x": {"datum": 0.84848, "type": "quantitative", "scale": {"domain": [0, 1]}, "axis": null}, "x2": {"datum": 1.08418}, "y": {"datum": 1.02575, "type": "quantitative", "scale": {"domain": [0, 1]}, "axis": null}, "y2": {"datum": 0.91617}}},
        {"mark": {"type": "text", "fontSize": 7, "fontWeight": "bold", "align": "left", "baseline": "top", "lineHeight": 7.5}, "encoding": {"x": {"datum": 0.85859, "type": "quantitative", "scale": {"domain": [0, 1]}, "axis": null}, "y": {"datum": 1.02096, "type": "quantitative", "scale": {"domain": [0, 1]}, "axis": null}, "text": {"value": ["Mean", "RMS"]}}},
        {"mark": {"type": "text", "fontSize": 7, "fontWeight": "bold", "align": "right", "baseline": "top", "lineHeight": 7.5}, "encoding": {"x": {"datum": 1.07744, "type": "quantitative", "scale": {"domain": [0, 1]}, "axis": null}, "y": {"datum": 1.02096, "type": "quantitative", "scale": {"domain": [0, 1]}, "axis": null}, "text": {"value": ["-10.58", "36.07"]}}}
      ]}
    ]
  },
  {
    "width": 297, "height": 167,
    "resolve": {"scale": {"x": "independent", "y": "independent"}, "axis": {"x": "independent", "y": "independent"}},
    "layer": [
      {"resolve": {"axis": {"x": "independent", "y": "independent"}}, "layer": [
        {"data": {"name": "vtx"}, "mark": {"type": "line", "interpolate": "step-after", "color": "black", "strokeWidth": 1},
         "encoding": {
           "x": {"field": "z", "type": "quantitative", "scale": {"domain": [-250, 250], "nice": false, "zero": false},
                 "axis": {"orient": "bottom", "values": [-200,-100,0,100,200], "labelOverlap": false, "labelExpr": "toString(datum.value)", "tickSize": -6, "labelPadding": 7.5, "title": "z [cm]", "titleAlign": "right", "titleBaseline": "top", "titleX": 297, "titleY": 9}},
           "y": {"field": "s", "type": "quantitative", "scale": {"type": "log", "domain": [0.5, 2050], "nice": false, "clamp": true},
                 "axis": {"orient": "left", "values": [1,10,100,1000], "labelOverlap": false, "labelExpr": "datum.value == 100 ? '10²' : datum.value == 1000 ? '10³' : toString(datum.value)", "tickSize": -9, "labelPadding": 12, "title": null}}
         }},
        {"data": {"values": []}, "mark": "point",
         "encoding": {
           "x": {"field": "z", "type": "quantitative", "scale": {"domain": [-250, 250], "nice": false, "zero": false},
                 "axis": {"orient": "bottom", "values": [-240,-220,-180,-160,-140,-120,-80,-60,-40,-20,20,40,60,80,120,140,160,180,220,240], "labels": false, "tickSize": -3, "title": null}},
           "y": {"field": "s", "type": "quantitative", "scale": {"type": "log", "domain": [0.5, 2050], "nice": false, "clamp": true},
                 "axis": {"orient": "left", "values": [0.6,0.7,0.8,0.9,2,3,4,5,6,7,8,9,20,30,40,50,60,70,80,90,200,300,400,500,600,700,800,900,2000], "labels": false, "tickSize": -5, "title": null}}
         }}
      ]},
      {"data": {"values": [{}]}, "layer": [
        {"mark": {"type": "rect", "fill": "black", "xOffset": 2, "x2Offset": 0, "yOffset": 2, "y2Offset": 2}, "encoding": {"x": {"datum": -0.11448, "type": "quantitative", "scale": {"domain": [0, 1]}, "axis": null}, "x2": {"datum": 1.10269}, "y": {"datum": 1.13772, "type": "quantitative", "scale": {"domain": [0, 1]}, "axis": null}, "y2": {"datum": 1.02994}}},
        {"mark": {"type": "rect", "fill": "#f0f0f0", "stroke": "#666666", "strokeWidth": 1}, "encoding": {"x": {"datum": -0.11448, "type": "quantitative", "scale": {"domain": [0, 1]}, "axis": null}, "x2": {"datum": 1.10269}, "y": {"datum": 1.13772, "type": "quantitative", "scale": {"domain": [0, 1]}, "axis": null}, "y2": {"datum": 1.02994}}},
        {"mark": {"type": "text", "fontSize": 12.5, "fontWeight": "bold", "align": "center", "baseline": "middle"}, "encoding": {"x": {"datum": 0.5017, "type": "quantitative", "scale": {"domain": [0, 1]}, "axis": null}, "y": {"datum": 1.07485, "type": "quantitative", "scale": {"domain": [0, 1]}, "axis": null}, "text": {"value": "ZDC vertex position (BBCLL1 trigger)"}}},
        {"mark": {"type": "rect", "fill": "black", "xOffset": 1.5, "x2Offset": 1.5, "yOffset": 1.5, "y2Offset": 1.5}, "encoding": {"x": {"datum": 0.84175, "type": "quantitative", "scale": {"domain": [0, 1]}, "axis": null}, "x2": {"datum": 1.09091}, "y": {"datum": 1.02575, "type": "quantitative", "scale": {"domain": [0, 1]}, "axis": null}, "y2": {"datum": 0.91617}}},
        {"mark": {"type": "rect", "fill": "white", "stroke": "black", "strokeWidth": 1}, "encoding": {"x": {"datum": 0.84175, "type": "quantitative", "scale": {"domain": [0, 1]}, "axis": null}, "x2": {"datum": 1.09091}, "y": {"datum": 1.02575, "type": "quantitative", "scale": {"domain": [0, 1]}, "axis": null}, "y2": {"datum": 0.91617}}},
        {"mark": {"type": "text", "fontSize": 7, "fontWeight": "bold", "align": "left", "baseline": "top", "lineHeight": 7.5}, "encoding": {"x": {"datum": 0.85185, "type": "quantitative", "scale": {"domain": [0, 1]}, "axis": null}, "y": {"datum": 1.02096, "type": "quantitative", "scale": {"domain": [0, 1]}, "axis": null}, "text": {"value": ["Mean", "RMS"]}}},
        {"mark": {"type": "text", "fontSize": 7, "fontWeight": "bold", "align": "right", "baseline": "top", "lineHeight": 7.5}, "encoding": {"x": {"datum": 1.07744, "type": "quantitative", "scale": {"domain": [0, 1]}, "axis": null}, "y": {"datum": 1.02096, "type": "quantitative", "scale": {"domain": [0, 1]}, "axis": null}, "text": {"value": ["-10.06", "20.74"]}}}
      ]}
    ]
  },
  {"width": 297, "height": 72, "view": {"stroke": null}, "data": {"values": []}, "mark": "point"},
  {"width": 297, "height": 72, "view": {"stroke": null}, "data": {"values": []}, "mark": "point"},
  {
    "width": 297, "height": 167,
    "resolve": {"scale": {"x": "independent", "y": "independent"}, "axis": {"x": "independent", "y": "independent"}},
    "layer": [
      {"resolve": {"axis": {"x": "independent", "y": "independent"}}, "layer": [
        {"data": {"name": "nPts"}, "mark": {"type": "point", "shape": "square", "filled": true, "size": 4, "color": "black", "opacity": 1},
         "encoding": {
           "x": {"field": "x", "type": "quantitative", "scale": {"domain": [-5.5, 5.5], "nice": false, "zero": false},
                 "axis": {"orient": "bottom", "values": [-4,-2,0,2,4], "labelOverlap": false, "labelExpr": "toString(datum.value)", "tickSize": -6, "labelPadding": 7.5, "title": "x [cm]", "titleAlign": "right", "titleBaseline": "top", "titleX": 297, "titleY": 10}},
           "y": {"field": "y", "type": "quantitative", "scale": {"domain": [-6, 6], "nice": false, "zero": false},
                 "axis": {"orient": "left", "values": [-4,-2,0,2,4], "labelOverlap": false, "labelExpr": "toString(datum.value)", "tickSize": -9, "labelPadding": 12, "title": "y [cm]", "titleAngle": 270, "titleAlign": "right", "titleBaseline": "middle", "titleX": -22, "titleY": 0}}
         }},
        {"data": {"name": "nMid"}, "mark": {"type": "circle", "size": 22, "color": "black", "opacity": 1},
         "encoding": {
           "x": {"field": "x", "type": "quantitative", "scale": {"domain": [-5.5, 5.5], "nice": false, "zero": false},
                 "axis": {"orient": "bottom", "values": [-5.5,-5,-4.5,-3.5,-3,-2.5,-1.5,-1,-0.5,0.5,1,1.5,2.5,3,3.5,4.5,5,5.5], "labels": false, "tickSize": -3, "title": null}},
           "y": {"field": "y", "type": "quantitative", "scale": {"domain": [-6, 6], "nice": false, "zero": false},
                 "axis": {"orient": "left", "values": [-5.5,-5,-4.5,-3.5,-3,-2.5,-1.5,-1,-0.5,0.5,1,1.5,2.5,3,3.5,4.5,5,5.5], "labels": false, "tickSize": -5, "title": null}}
         }},
        {"data": {"name": "nCore"}, "mark": {"type": "circle", "size": 120, "color": "black", "opacity": 1},
         "encoding": {"x": {"field": "x", "type": "quantitative", "axis": null}, "y": {"field": "y", "type": "quantitative", "axis": null}}},
        {"data": {"name": "ring"}, "mark": {"type": "line", "color": "#ff0000", "strokeWidth": 2, "interpolate": "cardinal-closed"},
         "encoding": {"x": {"field": "x", "type": "quantitative", "axis": null}, "y": {"field": "y", "type": "quantitative", "axis": null}, "order": {"field": "k", "type": "quantitative"}}}
      ]},
      {"data": {"values": [{}]}, "layer": [
        {"mark": {"type": "text", "fontSize": 15.5, "align": "left", "baseline": "alphabetic"}, "encoding": {"x": {"datum": -0.10101, "type": "quantitative", "scale": {"domain": [0, 1]}, "axis": null}, "y": {"datum": 1.12994, "type": "quantitative", "scale": {"domain": [0, 1]}, "axis": null}, "text": {"value": "ZDC vertex position = -9.908 cm"}}},
        {"mark": {"type": "text", "fontSize": 17, "align": "left", "baseline": "alphabetic"}, "encoding": {"x": {"datum": -0.12458, "type": "quantitative", "scale": {"domain": [0, 1]}, "axis": null}, "y": {"datum": -0.28743, "type": "quantitative", "scale": {"domain": [0, 1]}, "axis": null}, "text": {"value": "x = 0.09339 cm, y =-0.9086 cm"}}},
        {"mark": {"type": "rect", "fill": "black", "xOffset": 2, "x2Offset": 2, "yOffset": 2, "y2Offset": 2}, "encoding": {"x": {"datum": -0.11448, "type": "quantitative", "scale": {"domain": [0, 1]}, "axis": null}, "x2": {"datum": 1.11448}, "y": {"datum": 1.11078, "type": "quantitative", "scale": {"domain": [0, 1]}, "axis": null}, "y2": {"datum": 1.02395}}},
        {"mark": {"type": "rect", "fill": "#f0f0f0", "stroke": "#666666", "strokeWidth": 1}, "encoding": {"x": {"datum": -0.11448, "type": "quantitative", "scale": {"domain": [0, 1]}, "axis": null}, "x2": {"datum": 1.11448}, "y": {"datum": 1.11078, "type": "quantitative", "scale": {"domain": [0, 1]}, "axis": null}, "y2": {"datum": 1.02395}}},
        {"mark": {"type": "text", "fontSize": 12.5, "fontWeight": "bold", "align": "center", "baseline": "middle"}, "encoding": {"x": {"datum": 0.498, "type": "quantitative", "scale": {"domain": [0, 1]}, "axis": null}, "y": {"datum": 1.06886, "type": "quantitative", "scale": {"domain": [0, 1]}, "axis": null}, "text": {"value": "SMD hit position north"}}},
        {"mark": {"type": "rect", "fill": "black", "xOffset": 1.5, "x2Offset": 1.5, "yOffset": 1.5, "y2Offset": 1.5}, "encoding": {"x": {"datum": 0.84848, "type": "quantitative", "scale": {"domain": [0, 1]}, "axis": null}, "x2": {"datum": 1.08418}, "y": {"datum": 1.01377, "type": "quantitative", "scale": {"domain": [0, 1]}, "axis": null}, "y2": {"datum": 0.81437}}},
        {"mark": {"type": "rect", "fill": "white", "stroke": "black", "strokeWidth": 1}, "encoding": {"x": {"datum": 0.84848, "type": "quantitative", "scale": {"domain": [0, 1]}, "axis": null}, "x2": {"datum": 1.08418}, "y": {"datum": 1.01377, "type": "quantitative", "scale": {"domain": [0, 1]}, "axis": null}, "y2": {"datum": 0.81437}}},
        {"mark": {"type": "text", "fontSize": 7, "fontWeight": "bold", "align": "left", "baseline": "top", "lineHeight": 7.9}, "encoding": {"x": {"datum": 0.85859, "type": "quantitative", "scale": {"domain": [0, 1]}, "axis": null}, "y": {"datum": 1.01078, "type": "quantitative", "scale": {"domain": [0, 1]}, "axis": null}, "text": {"value": ["Mean x", "Mean y", "RMS x", "RMS y"]}}},
        {"mark": {"type": "text", "fontSize": 7, "fontWeight": "bold", "align": "right", "baseline": "top", "lineHeight": 7.9}, "encoding": {"x": {"datum": 1.07744, "type": "quantitative", "scale": {"domain": [0, 1]}, "axis": null}, "y": {"datum": 1.01078, "type": "quantitative", "scale": {"domain": [0, 1]}, "axis": null}, "text": {"value": ["0.1089", "-0.3786", "0.6041", "0.7732"]}}}
      ]}
    ]
  },
  {
    "width": 297, "height": 167,
    "resolve": {"scale": {"x": "independent", "y": "independent"}, "axis": {"x": "independent", "y": "independent"}},
    "layer": [
      {"resolve": {"axis": {"x": "independent", "y": "independent"}}, "layer": [
        {"data": {"name": "sPts"}, "mark": {"type": "point", "shape": "square", "filled": true, "size": 4, "color": "black", "opacity": 1},
         "encoding": {
           "x": {"field": "x", "type": "quantitative", "scale": {"domain": [-5.5, 5.5], "nice": false, "zero": false},
                 "axis": {"orient": "bottom", "values": [-4,-2,0,2,4], "labelOverlap": false, "labelExpr": "toString(datum.value)", "tickSize": -6, "labelPadding": 7.5, "title": "x [cm]", "titleAlign": "right", "titleBaseline": "top", "titleX": 297, "titleY": 10}},
           "y": {"field": "y", "type": "quantitative", "scale": {"domain": [-6, 6], "nice": false, "zero": false},
                 "axis": {"orient": "left", "values": [-4,-2,0,2,4], "labelOverlap": false, "labelExpr": "toString(datum.value)", "tickSize": -9, "labelPadding": 12, "title": "y [cm]", "titleAngle": 270, "titleAlign": "right", "titleBaseline": "middle", "titleX": -22, "titleY": 0}}
         }},
        {"data": {"name": "sMid"}, "mark": {"type": "circle", "size": 22, "color": "black", "opacity": 1},
         "encoding": {
           "x": {"field": "x", "type": "quantitative", "scale": {"domain": [-5.5, 5.5], "nice": false, "zero": false},
                 "axis": {"orient": "bottom", "values": [-5.5,-5,-4.5,-3.5,-3,-2.5,-1.5,-1,-0.5,0.5,1,1.5,2.5,3,3.5,4.5,5,5.5], "labels": false, "tickSize": -3, "title": null}},
           "y": {"field": "y", "type": "quantitative", "scale": {"domain": [-6, 6], "nice": false, "zero": false},
                 "axis": {"orient": "left", "values": [-5.5,-5,-4.5,-3.5,-3,-2.5,-1.5,-1,-0.5,0.5,1,1.5,2.5,3,3.5,4.5,5,5.5], "labels": false, "tickSize": -5, "title": null}}
         }},
        {"data": {"name": "sCore"}, "mark": {"type": "circle", "size": 120, "color": "black", "opacity": 1},
         "encoding": {"x": {"field": "x", "type": "quantitative", "axis": null}, "y": {"field": "y", "type": "quantitative", "axis": null}}},
        {"data": {"name": "ring"}, "mark": {"type": "line", "color": "#ff0000", "strokeWidth": 2, "interpolate": "cardinal-closed"},
         "encoding": {"x": {"field": "x", "type": "quantitative", "axis": null}, "y": {"field": "y", "type": "quantitative", "axis": null}, "order": {"field": "k", "type": "quantitative"}}}
      ]},
      {"data": {"values": [{}]}, "layer": [
        {"mark": {"type": "text", "fontSize": 17, "align": "left", "baseline": "alphabetic"}, "encoding": {"x": {"datum": -0.11111, "type": "quantitative", "scale": {"domain": [0, 1]}, "axis": null}, "y": {"datum": -0.28743, "type": "quantitative", "scale": {"domain": [0, 1]}, "axis": null}, "text": {"value": "x = 0.09433 cm, y =-0.3671 cm"}}},
        {"mark": {"type": "rect", "fill": "black", "xOffset": 2, "x2Offset": 0, "yOffset": 2, "y2Offset": 2}, "encoding": {"x": {"datum": -0.11448, "type": "quantitative", "scale": {"domain": [0, 1]}, "axis": null}, "x2": {"datum": 1.10269}, "y": {"datum": 1.11078, "type": "quantitative", "scale": {"domain": [0, 1]}, "axis": null}, "y2": {"datum": 1.02395}}},
        {"mark": {"type": "rect", "fill": "#f0f0f0", "stroke": "#666666", "strokeWidth": 1}, "encoding": {"x": {"datum": -0.11448, "type": "quantitative", "scale": {"domain": [0, 1]}, "axis": null}, "x2": {"datum": 1.10269}, "y": {"datum": 1.11078, "type": "quantitative", "scale": {"domain": [0, 1]}, "axis": null}, "y2": {"datum": 1.02395}}},
        {"mark": {"type": "text", "fontSize": 12.5, "fontWeight": "bold", "align": "center", "baseline": "middle"}, "encoding": {"x": {"datum": 0.497, "type": "quantitative", "scale": {"domain": [0, 1]}, "axis": null}, "y": {"datum": 1.06886, "type": "quantitative", "scale": {"domain": [0, 1]}, "axis": null}, "text": {"value": "SMD hit position south"}}},
        {"mark": {"type": "rect", "fill": "black", "xOffset": 1.5, "x2Offset": 1.5, "yOffset": 1.5, "y2Offset": 1.5}, "encoding": {"x": {"datum": 0.84175, "type": "quantitative", "scale": {"domain": [0, 1]}, "axis": null}, "x2": {"datum": 1.09091}, "y": {"datum": 1.01377, "type": "quantitative", "scale": {"domain": [0, 1]}, "axis": null}, "y2": {"datum": 0.81437}}},
        {"mark": {"type": "rect", "fill": "white", "stroke": "black", "strokeWidth": 1}, "encoding": {"x": {"datum": 0.84175, "type": "quantitative", "scale": {"domain": [0, 1]}, "axis": null}, "x2": {"datum": 1.09091}, "y": {"datum": 1.01377, "type": "quantitative", "scale": {"domain": [0, 1]}, "axis": null}, "y2": {"datum": 0.81437}}},
        {"mark": {"type": "text", "fontSize": 7, "fontWeight": "bold", "align": "left", "baseline": "top", "lineHeight": 7.9}, "encoding": {"x": {"datum": 0.85185, "type": "quantitative", "scale": {"domain": [0, 1]}, "axis": null}, "y": {"datum": 1.01078, "type": "quantitative", "scale": {"domain": [0, 1]}, "axis": null}, "text": {"value": ["Mean x", "Mean y", "RMS x", "RMS y"]}}},
        {"mark": {"type": "text", "fontSize": 7, "fontWeight": "bold", "align": "right", "baseline": "top", "lineHeight": 7.9}, "encoding": {"x": {"datum": 1.07744, "type": "quantitative", "scale": {"domain": [0, 1]}, "axis": null}, "y": {"datum": 1.01078, "type": "quantitative", "scale": {"domain": [0, 1]}, "axis": null}, "text": {"value": ["0.09456", "-0.9039", "0.5787", "0.8381"]}}}
      ]}
    ]
  }
]
}
